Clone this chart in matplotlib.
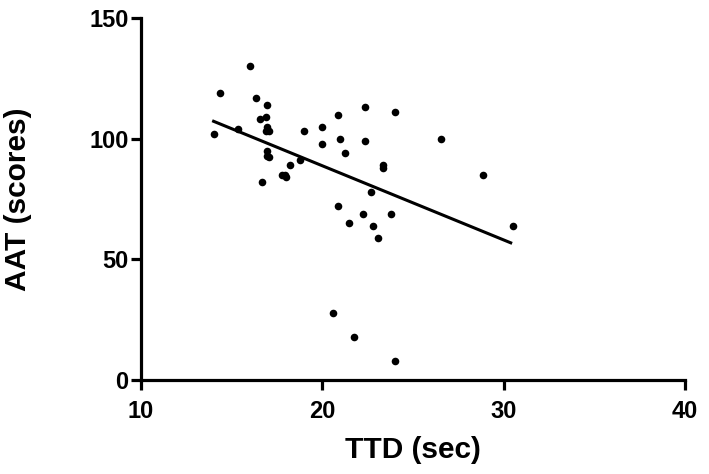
import numpy as np
import matplotlib
matplotlib.use("Agg")
import matplotlib.pyplot as plt

# TTD (sec) vs AAT (scores)
ttd = [14.0, 14.35, 15.35, 16.0, 16.35, 16.55, 16.87, 16.97, 16.97, 16.87,
       17.08, 16.97, 16.97, 17.08, 16.67, 17.75, 18.0, 17.95, 18.2, 18.75,
       18.98, 20.0, 20.0, 20.58, 20.87, 20.87, 20.98, 21.26, 21.47, 21.77,
       22.37, 22.37, 22.26, 22.69, 22.77, 23.07, 23.37, 23.37, 23.77, 23.99,
       23.99, 26.57, 28.87, 30.49]
aat = [102, 119, 104, 130, 117, 108, 109, 114, 105, 103,
       103, 95, 93, 92.5, 82, 85, 84, 85, 89, 91,
       103, 105, 98, 28, 110, 72, 100, 94, 65, 18,
       113, 99, 69, 78, 64, 59, 89, 88, 69, 111,
       8, 100, 85, 64]

x_ticks = [10, 20, 30, 40]
y_ticks = [0, 50, 100, 150]

plt.rcParams["font.family"] = ["Liberation Sans", "DejaVu Sans"]
plt.rcParams["font.weight"] = "bold"

fig = plt.figure(figsize=(7.09, 4.74), dpi=100)
ax = fig.add_axes([0.199, 0.198, 0.767, 0.764])

ax.scatter(ttd, aat, s=30, color="black", zorder=3, linewidths=0)

# least-squares fit line over the data range
slope, intercept = np.polyfit(ttd, aat, 1)
xs = np.array([min(ttd), max(ttd) - 0.1])
ax.plot(xs, slope * xs + intercept, color="black", lw=2.2)

ax.set_xlim(10, 40)
ax.set_ylim(0, 150)
ax.set_xticks(x_ticks)
ax.set_yticks(y_ticks)

for side in ("top", "right"):
    ax.spines[side].set_visible(False)
for side in ("left", "bottom"):
    ax.spines[side].set_linewidth(2.3)
ax.tick_params(width=2.3, length=7, labelsize=17)
ax.tick_params(axis="x", pad=7)
ax.tick_params(axis="y", pad=2)

ax.set_xlabel("TTD (sec)", fontsize=21.5, fontweight="bold")
ax.set_ylabel("AAT (scores)", fontsize=21.5, fontweight="bold")
ax.xaxis.set_label_coords(0.5, -0.155)
ax.yaxis.set_label_coords(-0.2, 0.5)

fig.savefig("out.png", dpi=100)
